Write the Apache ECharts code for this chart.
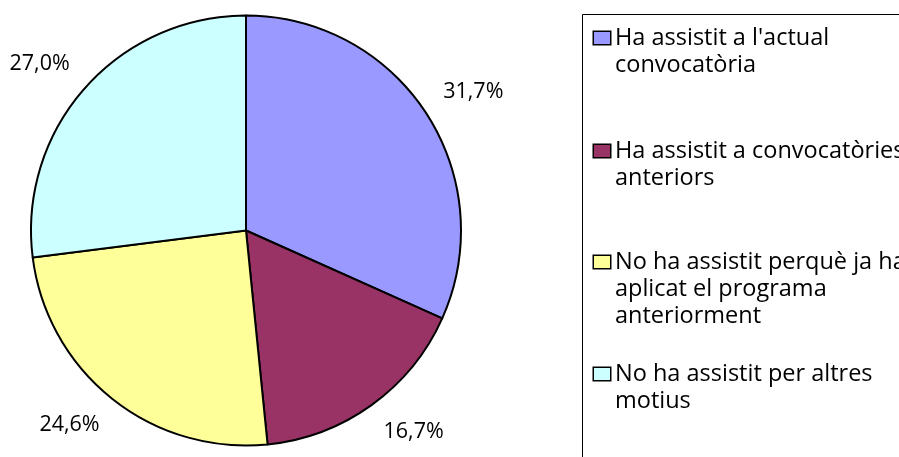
<!DOCTYPE html>
<html>

<head>
    <meta charset="utf-8">
    <script src="https://cdn.jsdelivr.net/npm/echarts@6/dist/echarts.min.js"></script>
</head>

<body style="margin:0">
    <div id="main" style="width: 899px;height:457px;"></div>
    <script type="text/javascript">
        var categories = [
            "Ha assistit a l'actual convocatòria",
            'Ha assistit a convocatòries anteriors',
            'No ha assistit perquè ja ha aplicat el programa anteriorment',
            'No ha assistit per altres motius'
        ];
        // com es talla cada text a la llegenda
        var legendLines = [
            ["Ha assistit a l'actual", 'convocatòria'],
            ['Ha assistit a convocatòries', 'anteriors'],
            ['No ha assistit perquè ja ha', 'aplicat el programa', 'anteriorment'],
            ['No ha assistit per altres', 'motius']
        ];
        var values = [31.7, 16.7, 24.6, 27.0];
        var colors = ['#9999FF', '#993366', '#FFFF99', '#CCFFFF'];
        var legendTops = [24.5, 137.5, 248.5, 360.5];
        var pieCenter = [246, 230.5];

        var myChart = echarts.init(document.getElementById('main'));

        var pieData = categories.map(function (name, i) {
            return { name: name, value: values[i], itemStyle: { color: colors[i] } };
        });

        var rich = {
            t: { padding: [0, 0, 0, 5] },
            u: { padding: [0, 0, 0, 21] }
        };
        colors.forEach(function (c, i) {
            rich['b' + i] = { width: 16, height: 12, backgroundColor: c, borderColor: '#000', borderWidth: 1.5 };
        });

        var legends = categories.map(function (name, i) {
            return {
                orient: 'vertical',
                left: 589,
                top: legendTops[i],
                padding: 0,
                icon: 'none',
                itemWidth: 0,
                itemHeight: 10,
                selectedMode: false,
                data: [name],
                formatter: function () {
                    var lines = legendLines[i];
                    var s = '{b' + i + '|}{t|' + lines[0] + '}';
                    for (var k = 1; k < lines.length; k++) {
                        s += '\n{u|' + lines[k] + '}';
                    }
                    return s;
                },
                textStyle: {
                    fontFamily: 'Open Sans',
                    fontSize: 23.5,
                    lineHeight: 27,
                    color: '#000',
                    rich: rich
                }
            };
        });

        myChart.setOption({
            animation: false,
            backgroundColor: '#fff',
            graphic: [{
                type: 'rect',
                shape: { x: 582.5, y: 14.5, width: 400, height: 500 },
                style: { fill: null, stroke: '#000', lineWidth: 1 },
                silent: true
            }],
            legend: legends,
            series: [{
                type: 'pie',
                center: pieCenter,
                radius: 215,
                startAngle: 90,
                clockwise: true,
                avoidLabelOverlap: false,
                itemStyle: { borderColor: '#000', borderWidth: 2 },
                label: {
                    show: true,
                    position: 'outside',
                    distanceToLabelLine: 0,
                    fontFamily: 'Open Sans',
                    fontSize: 21.5,
                    lineHeight: 18,
                    color: '#000',
                    formatter: function (p) {
                        return p.value.toFixed(1).replace('.', ',') + '%';
                    }
                },
                labelLine: { show: false, length: 20, length2: 0 },
                // l'etiqueta toca el punt amb la cantonada més propera al pastís
                labelLayout: function (p) {
                    var r = p.labelRect;
                    var above = r.y + r.height / 2 < pieCenter[1];
                    return { dy: above ? -r.height / 2 : r.height / 2 };
                },
                emphasis: { disabled: true },
                data: pieData
            }]
        });
    </script>
</body>

</html>
